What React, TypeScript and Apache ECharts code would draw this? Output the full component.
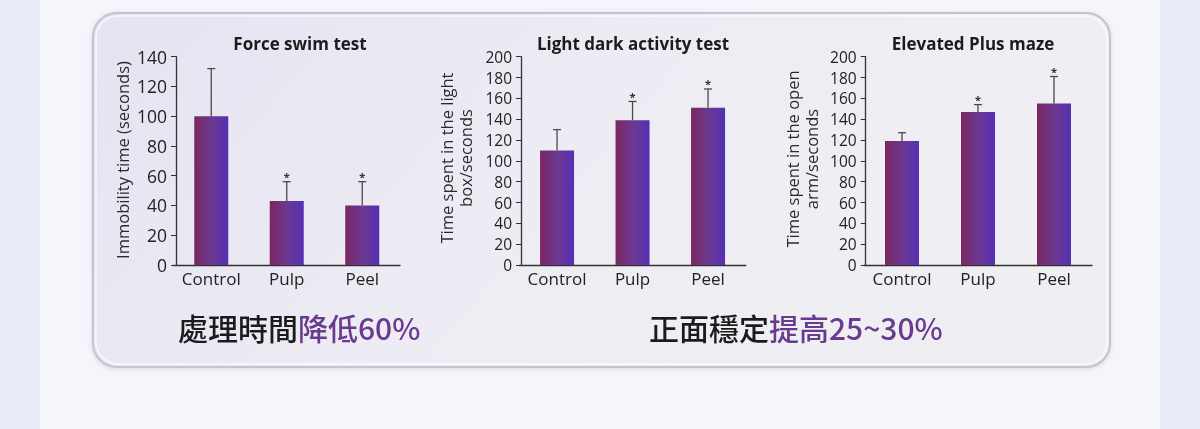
import React, { useEffect, useRef } from "react";
import * as echarts from "echarts";

const categories = ["Control", "Pulp", "Peel"];

const titles = ["Force swim test", "Light dark activity test", "Elevated Plus maze"];

const forceSwimMeans = [100, 43, 40];
const forceSwimErrTop = [132, 56, 56];
const forceSwimSig = [0, 1, 1];

const lightDarkMeans = [110, 139, 151];
const lightDarkErrTop = [130, 157, 169];
const lightDarkSig = [0, 1, 1];

const plusMazeMeans = [119, 147, 155];
const plusMazeErrTop = [127, 154, 181];
const plusMazeSig = [0, 1, 1];

const yMaxes = [140, 200, 200];
const yInterval = 20;

const yNames = [
  ["Immobility time (seconds)"],
  ["Time spent in the light", "box/seconds"],
  ["Time spent in the open", "arm/seconds"],
];

const captionLeftBlack = "處理時間";
const captionLeftPurple = "降低60%";
const captionRightBlack = "正面穩定";
const captionRightPurple = "提高25~30%";

const LATIN = "'Open Sans', 'Noto Sans', sans-serif";
const CJK = "'Noto Sans CJK TC', 'Noto Sans CJK SC', sans-serif";

export default function App() {
  const ref = useRef<HTMLDivElement>(null);

  useEffect(() => {
    if (!ref.current) return;
    document.body.style.margin = "0";
    const chart = echarts.init(ref.current, null, { renderer: "svg" });

    const grids = [
      { left: 173.5, top: 56.7, width: 226.5, height: 208.3, axisOffset: -2.5, tickFont: 17.5 },
      { left: 519.3, top: 56.7, width: 226.5, height: 208.3, axisOffset: -1.7, tickFont: 15.5 },
      { left: 864, top: 56.7, width: 228, height: 208.3, axisOffset: -1.7, tickFont: 15.5 },
    ];

    const means = [forceSwimMeans, lightDarkMeans, plusMazeMeans];
    const errs = [forceSwimErrTop, lightDarkErrTop, plusMazeErrTop];
    const sigs = [forceSwimSig, lightDarkSig, plusMazeSig];

    const barGradient = new echarts.graphic.LinearGradient(0, 0, 1, 0, [
      { offset: 0, color: "#7b2660" },
      { offset: 0.5, color: "#6c3890" },
      { offset: 1, color: "#5530b4" },
    ]);

    const series: any[] = [];
    means.forEach((m, i) => {
      series.push({
        type: "bar",
        xAxisIndex: i,
        yAxisIndex: i,
        data: m,
        barWidth: 34,
        itemStyle: { color: barGradient },
        z: 2,
      });
      series.push({
        type: "custom",
        xAxisIndex: i,
        yAxisIndex: i,
        z: 5,
        data: m.map((v, k) => [k, v, errs[i][k], sigs[i][k]]),
        renderItem: (params: any, api: any) => {
          const idx = api.value(0);
          const p0 = api.coord([idx, api.value(1)]);
          const p1 = api.coord([idx, api.value(2)]);
          const children: any[] = [
            {
              type: "line",
              shape: { x1: p0[0], y1: p0[1], x2: p1[0], y2: p1[1] },
              style: { stroke: "#4a4a4a", lineWidth: 1.3 },
            },
            {
              type: "line",
              shape: { x1: p1[0] - 4, y1: p1[1], x2: p1[0] + 4, y2: p1[1] },
              style: { stroke: "#4a4a4a", lineWidth: 1.3 },
            },
          ];
          if (api.value(3)) {
            children.push({
              type: "text",
              x: p1[0],
              y: p1[1] - 5,
              style: {
                text: "*",
                fill: "#333",
                font: `bold 11px ${LATIN}`,
                lineHeight: 8,
                align: "center",
                verticalAlign: "middle",
              },
            });
          }
          return { type: "group", children };
        },
      });
    });

    const graphic: any[] = [
      { type: "rect", shape: { x: 0, y: 0, width: 1200, height: 429 }, style: { fill: "#e9ebf6" }, z: -30, silent: true },
      { type: "rect", shape: { x: 40, y: 0, width: 1120, height: 429 }, style: { fill: "#f5f6fb" }, z: -29, silent: true },
      {
        type: "rect",
        shape: { x: 93, y: 13, width: 1017, height: 354, r: 24 },
        style: {
          fill: new echarts.graphic.LinearGradient(0, 0, 1, 0.3, [
            { offset: 0, color: "#e4e3f1" },
            { offset: 0.5, color: "#edecf4" },
            { offset: 1, color: "#efeff3" },
          ]),
          stroke: "#c2c4d0",
          lineWidth: 2,
          shadowColor: "rgba(120,120,150,0.25)",
          shadowBlur: 4,
          shadowOffsetY: 1,
        },
        z: -20,
        silent: true,
      },
      {
        type: "rect",
        shape: { x: 96, y: 16, width: 1011, height: 348, r: 22 },
        style: { fill: "none", stroke: "rgba(255,255,255,0.7)", lineWidth: 1.5 },
        z: -19,
        silent: true,
      },
    ];

    const titleX = [300, 633, 973];
    titleX.forEach((x, i) => {
      graphic.push({
        type: "text",
        x,
        y: 43,
        style: {
          text: titles[i],
          font: `bold 17px ${LATIN}`,
          fill: "#1c1c1c",
          align: "center",
          verticalAlign: "middle",
        },
      });
    });

    const nameLines: [number, number, string][] = [
      [122, 160, yNames[0][0]],
      [446, 158, yNames[1][0]],
      [465, 158, yNames[1][1]],
      [792, 159, yNames[2][0]],
      [811, 159, yNames[2][1]],
    ];
    nameLines.forEach(([x, y, t]) => {
      graphic.push({
        type: "text",
        x,
        y,
        rotation: Math.PI / 2,
        style: {
          text: t,
          font: `16.5px ${LATIN}`,
          lineHeight: 16,
          fill: "#2a2a2a",
          align: "center",
          verticalAlign: "middle",
        },
      });
    });

    const captionRich = {
      b: { font: `500 30px ${CJK}`, fill: "#1b1b1b" },
      p: { font: `500 30px ${CJK}`, fill: "#6a3a8e" },
    };
    graphic.push({
      type: "text",
      x: 178,
      y: 327,
      style: {
        text: `{b|${captionLeftBlack}}{p|${captionLeftPurple}}`,
        verticalAlign: "middle",
        align: "left",
        rich: captionRich,
      },
    });
    graphic.push({
      type: "text",
      x: 649,
      y: 327,
      style: {
        text: `{b|${captionRightBlack}}{p|${captionRightPurple}}`,
        verticalAlign: "middle",
        align: "left",
        rich: captionRich,
      },
    });

    chart.setOption({
      animation: false,
      grid: grids.map((g) => ({ left: g.left, top: g.top, width: g.width, height: g.height, containLabel: false })),
      xAxis: grids.map((g, i) => ({
        type: "category",
        gridIndex: i,
        data: categories,
        axisLine: { show: true, lineStyle: { color: "#333", width: 1.3 } },
        axisTick: { show: false },
        axisLabel: { color: "#222", fontSize: 17, fontFamily: LATIN, margin: 5, interval: 0, hideOverlap: false },
        splitLine: { show: false },
      })),
      yAxis: grids.map((g, i) => ({
        type: "value",
        gridIndex: i,
        min: 0,
        max: yMaxes[i],
        interval: yInterval,
        offset: g.axisOffset,
        axisLine: { show: true, lineStyle: { color: "#333", width: 1.3 } },
        axisTick: { show: true, length: 5, lineStyle: { color: "#333" } },
        axisLabel: { color: "#222", fontSize: g.tickFont, lineHeight: 16, fontFamily: LATIN, margin: 9, hideOverlap: false },
        splitLine: { show: false },
      })),
      series,
      graphic,
    });

    return () => chart.dispose();
  }, []);

  return (
    <div
      ref={ref}
      style={{ position: "fixed", left: 0, top: 0, width: 1200, height: 429 }}
    />
  );
}
